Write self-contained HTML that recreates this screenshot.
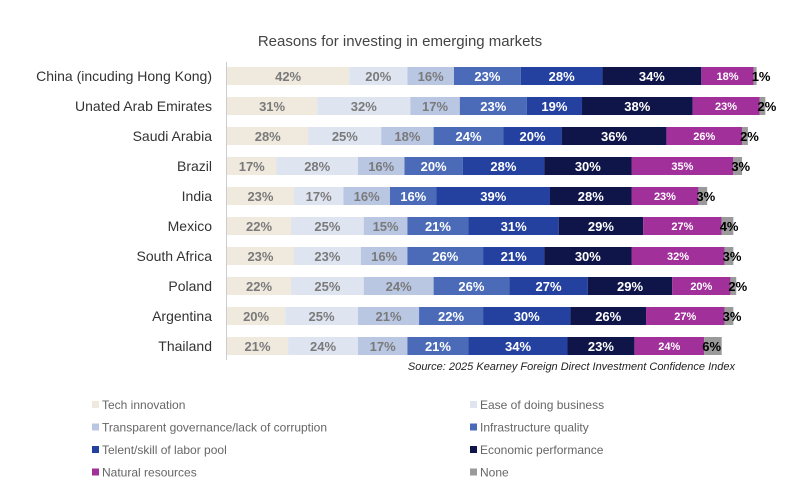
<!DOCTYPE html>
<html><head><meta charset="utf-8"><style>
body{margin:0;background:#fff;width:800px;height:499px;overflow:hidden;font-family:"Liberation Sans",sans-serif}
</style></head><body>
<svg id="chart" width="800" height="499" xmlns="http://www.w3.org/2000/svg" font-family="Liberation Sans, sans-serif">
<text x="400" y="46" text-anchor="middle" font-size="15" fill="#444">Reasons for investing in emerging markets</text>
<line x1="226.5" y1="62" x2="226.5" y2="360" stroke="#ccc" stroke-width="1"/>
<g id="bars"></g>
<text x="735" y="370" text-anchor="end" font-size="11" font-style="italic" fill="#222">Source: 2025 Kearney Foreign Direct Investment Confidence Index</text>
<g id="legend"></g>
</svg>
<script>
const countries=["China (incuding Hong Kong)","Unated Arab Emirates","Saudi Arabia","Brazil","India","Mexico","South Africa","Poland","Argentina","Thailand"];
const seriesNames=["Tech innovation","Ease of doing business","Transparent governance/lack of corruption","Infrastructure quality","Telent/skill of labor pool","Economic performance","Natural resources","None"];
const techInnovation=[42,31,28,17,23,22,23,22,20,21];
const easeOfBusiness=[20,32,25,28,17,25,23,25,25,24];
const transparentGov=[16,17,18,16,16,15,16,24,21,17];
const infrastructure=[23,23,24,20,16,21,26,26,22,21];
const talent=[28,19,20,28,39,31,21,27,30,34];
const economic=[34,38,36,30,28,29,30,29,26,23];
const naturalRes=[18,23,26,35,23,27,32,20,27,24];
const none=[1,2,2,3,3,4,3,2,3,6];
const series=[techInnovation,easeOfBusiness,transparentGov,infrastructure,talent,economic,naturalRes,none];
const colors=["#efe9de","#dfe4f1","#b9c7e3","#4b6bb8","#2441a0","#0f1549","#a1309b","#9a9a9a"];
const labelColors=["#7a7a7a","#7a7a7a","#7a7a7a","#fff","#fff","#fff","#fff","#000"];
const NS="http://www.w3.org/2000/svg";
const x0=227,pxPer=2.91;
const xScale=v=>x0+v*pxPer;
const yScale=i=>76+i*30;
const bars=document.getElementById('bars');
function mk(tag,attrs){const e=document.createElementNS(NS,tag);for(const k in attrs)e.setAttribute(k,attrs[k]);return e;}
countries.forEach((c,i)=>{
  const y=yScale(i);
  const lab=mk('text',{x:212,y:y+5,'text-anchor':'end','font-size':14,fill:'#333'});
  
  
  lab.textContent=c;bars.appendChild(lab);
  let cum=0;
  series.forEach((s,j)=>{
    const v=s[i];const xa=xScale(cum),xb=xScale(cum+v);
    const r=mk('rect',{x:xa,y:y-9,width:xb-xa,height:18,fill:colors[j]});
    
    
    bars.appendChild(r);
    cum+=v;
  });
  cum=0;
  series.forEach((s,j)=>{
    const v=s[i];const xa=xScale(cum),xb=xScale(cum+v);
    let t;
    if(j===7){t=mk('text',{x:xa-2,y:y+5,'text-anchor':'start','font-size':13,'font-weight':'bold',fill:labelColors[j]});}
    else{t=mk('text',{x:(xa+xb)/2,y:y+(j===6?4:5),'text-anchor':'middle','font-size':j===6?11:13,'font-weight':'bold',fill:labelColors[j]});}
    
    
    t.textContent=v+'%';bars.appendChild(t);
    cum+=v;
  });
});
const legend=document.getElementById('legend');
seriesNames.forEach((n,j)=>{
  const lx=j%2===0?92:470, ly=405+Math.floor(j/2)*22.5;
  const sw=mk('rect',{x:lx,y:ly-4,width:7,height:7,fill:colors[j]});
  
  
  legend.appendChild(sw);
  const t=mk('text',{x:lx+10,y:ly+4,'font-size':12,fill:'#666'});
  
  
  t.textContent=n;legend.appendChild(t);
});
</script>
</body></html>
